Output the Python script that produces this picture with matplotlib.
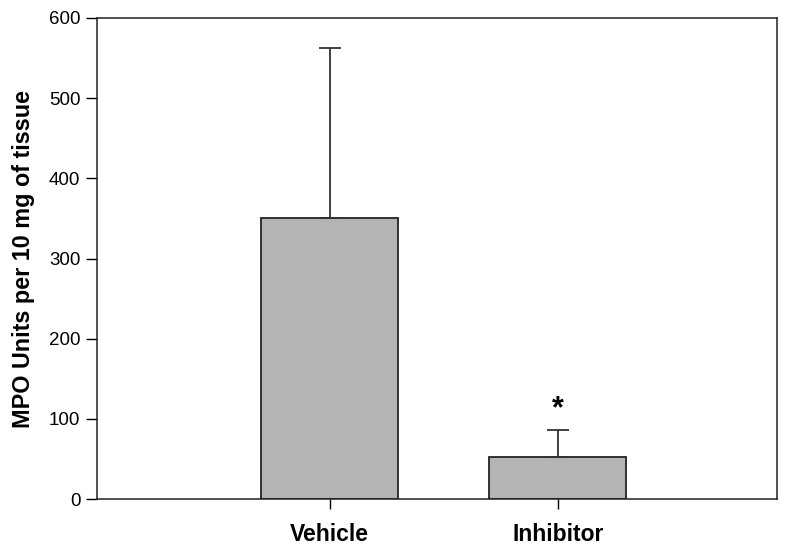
import matplotlib
matplotlib.use("Agg")
import matplotlib.pyplot as plt

categories = ["Vehicle", "Inhibitor"]
means = [350, 53]
errors = [213, 33]
yticks = [0, 100, 200, 300, 400, 500, 600]

plt.rcParams['font.family'] = ['Liberation Sans', 'DejaVu Sans']

fig = plt.figure(figsize=(8, 5.52), dpi=100)
ax = fig.add_axes([0.12125, 0.096, 0.85, 0.8714])

x = list(range(len(categories)))
ax.bar(x, means, width=0.6, color='#b4b4b4', edgecolor='#222222', linewidth=1.3, zorder=2)
ax.errorbar(x, means, yerr=[[0]*len(means), errors], fmt='none', ecolor='#333333',
            elinewidth=1.3, capsize=8, capthick=1.3, zorder=3)
ax.text(1, 112, '*', ha='center', va='center', fontsize=22, fontweight='bold')

ax.set_xlim(-1.02, 1.96)
ax.set_ylim(0, 600)
ax.set_yticks(yticks)
ax.set_yticklabels([str(v) for v in yticks], fontsize=13.5)
ax.set_xticks(x)
ax.set_xticklabels(categories, fontsize=16.5, fontweight='bold')
ax.tick_params(axis='y', direction='out', length=8, width=1, pad=4)
ax.tick_params(axis='x', direction='out', length=7, width=1, pad=10)
ax.set_ylabel('MPO Units per 10 mg of tissue', fontsize=16.8, fontweight='bold', labelpad=10)
for s in ax.spines.values():
    s.set_linewidth(1.1)
    s.set_color('#222222')

fig.savefig('out.png', dpi=100)
